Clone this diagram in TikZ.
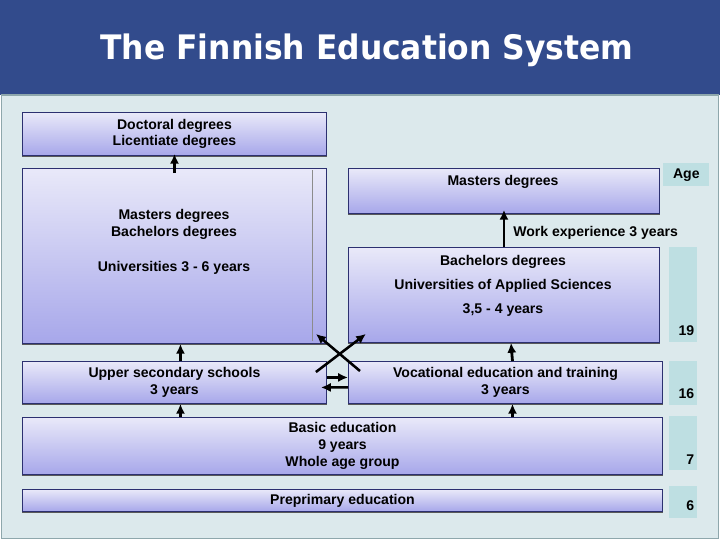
\documentclass[tikz,border=0pt]{standalone}
\usepackage{fontspec}
\setmainfont{Liberation Sans}
\newfontfamily\titlefont{DejaVu Sans}
\usetikzlibrary{arrows.meta}
\definecolor{titlebar}{HTML}{324B8C}
\definecolor{panel}{HTML}{DCE9EC}
\definecolor{panelline}{HTML}{8EA7AC}
\definecolor{boxtop}{HTML}{E9E9F9}
\definecolor{boxbot}{HTML}{A7A7EA}
\definecolor{boxline}{HTML}{2C3070}
\definecolor{agefill}{HTML}{BEDFE2}
\tikzset{
  stage/.style={draw=boxline, line width=0.6pt, top color=boxtop, bottom color=boxbot,
    anchor=north west, inner sep=0pt, align=center, font=\bfseries\fontsize{10}{12}\selectfont},
  stagetext/.style={align=center, font=\bfseries\fontsize{10}{12}\selectfont},
  stageshadow/.style={draw=black!65, line width=1.3pt},
  agebox/.style={fill=agefill, anchor=north west, inner sep=0pt},
  agenum/.style={font=\bfseries\fontsize{10}{12}\selectfont, inner sep=0pt, anchor=south east},
  rise/.style={-{Latex[length=7pt,width=6.5pt]}, line width=2pt},
  crossing/.style={-{Latex[length=7pt,width=6.5pt]}, line width=1.8pt},
}

\begin{document}
\begin{tikzpicture}[x=0.025cm, y=-0.025cm]
\useasboundingbox (0,0) rectangle (720,540);
% background
\fill[titlebar] (0,0) rectangle (720,95);
\fill[panel, draw=panelline, line width=1pt] (1.5,95) rectangle (718.5,538.5);
\node[text=white] (title) at (367,50) {\titlefont\bfseries\fontsize{24}{28}\selectfont\scalebox{0.93}[1]{The Finnish Education System}};

% stages
\node[stage, minimum width=7.6cm, minimum height=1.075cm] (doc) at (22,112) {Doctoral degrees\\Licentiate degrees};
\node[stage, minimum width=7.6cm, minimum height=4.375cm] (uni) at (22,168) {};
\node[stage, minimum width=7.775cm, minimum height=1.125cm] (mast) at (348,168) {};
\node[stage, minimum width=7.775cm, minimum height=2.375cm] (bach) at (348,247) {};
\node[stage, minimum width=7.6cm, minimum height=1.05cm] (upper) at (22,361) {Upper secondary schools\\3 years};
\node[stage, minimum width=7.85cm, minimum height=1.05cm] (voc) at (348,361) {Vocational education and training\\3 years};
\node[stage, minimum width=16cm, minimum height=1.425cm] (basic) at (22,417) {Basic education\\9 years\\Whole age group};
\node[stage, minimum width=16cm, minimum height=0.55cm] (pre) at (22,489) {Preprimary education};
\foreach \n in {doc,uni,mast,bach,upper,voc,basic,pre}
  \draw[stageshadow] ([yshift=-0.4pt]\n.south west) -- ([yshift=-0.4pt]\n.south east);
\draw[black!45, line width=0.6pt] ([shift={(-15,2)}]uni.north east) -- ([shift={(-15,-3)}]uni.south east);

\node[stagetext] (unitext) at (174,242) {Masters degrees\\Bachelors degrees\\[13pt]Universities 3 - 6 years};
\node[stagetext] (masttext) at (503,182) {Masters degrees};
\node[stagetext] (bachtext) at (503,286) {Bachelors degrees\\[5pt]Universities of Applied Sciences\\[5pt]3,5 - 4 years};

% ages
\node[agebox, minimum width=1.15cm, minimum height=0.575cm, font=\bfseries\fontsize{10}{12}\selectfont] (agehead) at (663,163) {Age};
\node[agebox, minimum width=0.7cm, minimum height=2.375cm] (age19) at (669,247) {};
\node[agebox, minimum width=0.7cm, minimum height=1.1cm] (age16) at (669,361) {};
\node[agebox, minimum width=0.7cm, minimum height=1.35cm] (age7) at (669,416) {};
\node[agebox, minimum width=0.7cm, minimum height=0.8cm] (age6) at (669,486) {};
\node[agenum] (n19) at ([shift={(-3,-7)}]age19.south east) {19};
\node[agenum] (n16) at ([shift={(-3,-7)}]age16.south east) {16};
\node[agenum] (n7) at ([shift={(-3,-6)}]age7.south east) {7};
\node[agenum] (n6) at ([shift={(-3,-8)}]age6.south east) {6};

% transitions
\draw[rise] ([yshift=-0.125cm]uni.north) -- ([yshift=0.05cm]doc.south);
\draw[rise] (bach.north) -- node[right=0.08cm, yshift=-0.1cm, stagetext] (work) {Work experience 3 years} ([yshift=0.1cm]mast.south);
\draw[rise] ([xshift=0.15cm]upper.north) -- ([xshift=0.15cm]uni.south);
\draw[rise] ([xshift=0.15cm]upper.south |- basic.north) -- ([xshift=0.15cm]upper.south);
\draw[rise] ([xshift=0.175cm]voc.north) -- ([xshift=0.175cm]bach.south);
\draw[rise] ([xshift=0.175cm]voc.south |- basic.north) -- ([xshift=0.175cm]voc.south);
\draw[crossing] ([shift={(12,10)}]voc.north west) -- ([shift={(-11,-10)}]uni.south east);
\draw[crossing] ([shift={(-11,11)}]upper.north east) -- ([shift={(18,-9)}]bach.south west);
\draw[crossing] ([yshift=0.125cm]upper.east) -- ([yshift=0.125cm]voc.west);
\draw[crossing] ([yshift=-0.125cm]voc.west) -- ([shift={(-6,5)}]upper.east);
\end{tikzpicture}
\end{document}
